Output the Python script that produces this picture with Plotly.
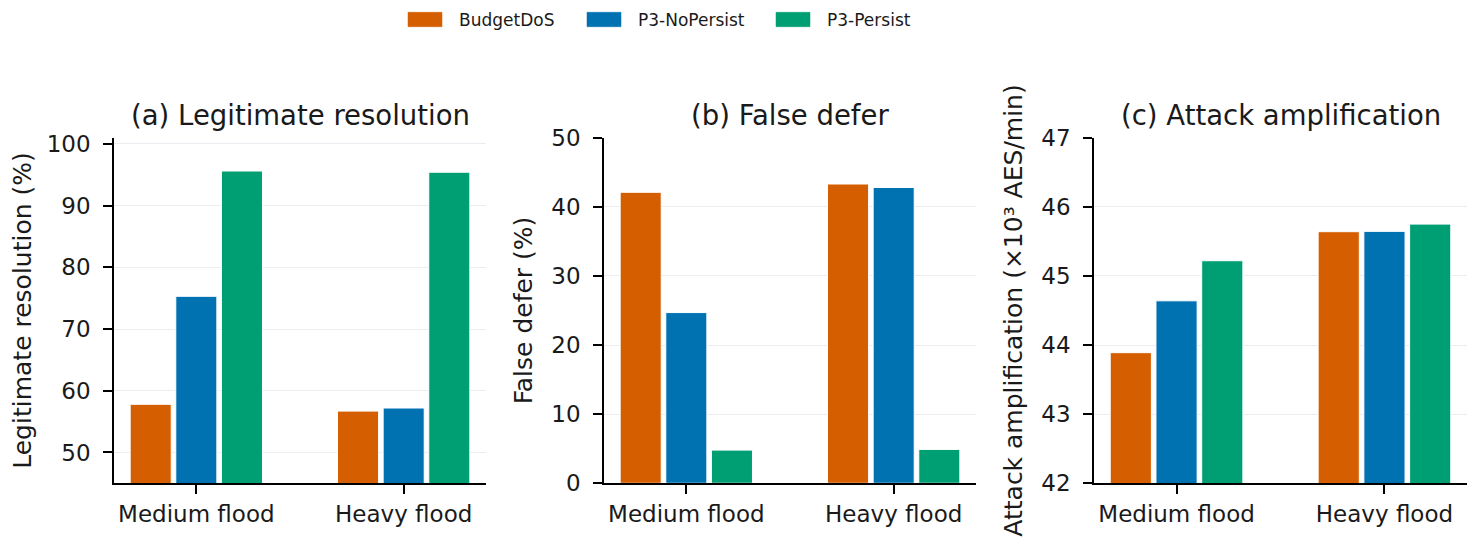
import plotly.graph_objects as go
from plotly.subplots import make_subplots

# data
categories = ['Medium flood', 'Heavy flood']
series_names = ['BudgetDoS', 'P3-NoPersist', 'P3-Persist']
series_colors = ['#D55E00', '#0072B2', '#009E73']

legit_resolution = {
    'BudgetDoS': [57.8, 56.7],
    'P3-NoPersist': [75.3, 57.2],
    'P3-Persist': [95.6, 95.4],
}
false_defer = {
    'BudgetDoS': [42.1, 43.3],
    'P3-NoPersist': [24.7, 42.8],
    'P3-Persist': [4.8, 4.9],
}
attack_amp = {
    'BudgetDoS': [43.89, 45.64],
    'P3-NoPersist': [44.64, 45.645],
    'P3-Persist': [45.22, 45.75],
}

panel_titles = ['(a) Legitimate resolution', '(b) False defer', '(c) Attack amplification']
y_titles = ['Legitimate resolution (%)', 'False defer (%)', 'Attack amplification (×10³ AES/min)']
y_ranges = [[45, 101], [0, 50], [42, 47]]
y_ticks = [[50, 60, 70, 80, 90, 100], [0, 10, 20, 30, 40, 50], [42, 43, 44, 45, 46, 47]]

W, H = 1476, 552
OFF = 8  # page body margin, the figure is drawn 8px in from the corner
font_family = 'DejaVu Sans'


def px_x(x):
    return (x - OFF) / W


def px_y(y):
    return 1 - (y - OFF) / H


fig = make_subplots(rows=1, cols=3)

panels = [legit_resolution, false_defer, attack_amp]
for col, panel in enumerate(panels, start=1):
    for name, color in zip(series_names, series_colors):
        fig.add_trace(
            go.Bar(
                x=categories,
                y=panel[name],
                name=name,
                marker=dict(color=color, line=dict(color='white', width=1)),
                showlegend=False,
            ),
            row=1, col=col
        )

# panel placement (pixels of the reference picture)
x_domains_px = [(114, 486), (604, 976), (1094, 1467)]
y_domain_px = (137.7, 483.3)
y_dom = [px_y(y_domain_px[1]), px_y(y_domain_px[0])]

for i in range(3):
    xd = [px_x(x_domains_px[i][0]), px_x(x_domains_px[i][1])]
    fig.update_xaxes(
        domain=xd,
        type='category',
        range=[-0.397, 1.397],
        automargin=False,
        showline=True, linecolor='black', linewidth=1.6,
        ticks='outside', ticklen=9, tickwidth=1.6, tickcolor='black',
        tickfont=dict(size=23, color='#1a1a1a', family=font_family),
        ticklabelstandoff=0,
        showgrid=False, zeroline=False,
        row=1, col=i + 1
    )
    fig.update_yaxes(
        domain=y_dom,
        range=y_ranges[i],
        tickvals=y_ticks[i],
        automargin=False,
        showline=True, linecolor='black', linewidth=1.6,
        ticks='outside', ticklen=9, tickwidth=1.6, tickcolor='black',
        tickfont=dict(size=23, color='#1a1a1a', family=font_family),
        ticklabelstandoff=8,
        showgrid=True, gridcolor='#ececf2', gridwidth=1,
        zeroline=False,
        title=dict(text=y_titles[i], standoff=12,
                   font=dict(size=25, color='#1a1a1a', family=font_family)),
        row=1, col=i + 1
    )
    # panel title
    fig.add_annotation(
        text=panel_titles[i],
        xref='paper', yref='paper',
        x=sum(xd) / 2, y=y_dom[1],
        xanchor='center', yanchor='bottom', yshift=5,
        showarrow=False,
        font=dict(size=27.5, color='#1a1a1a', family=font_family)
    )

# legend drawn at the top centre
legend_x_px = [408, 587, 776]
for name, color, lx in zip(series_names, series_colors, legend_x_px):
    fig.add_shape(
        type='rect', xref='paper', yref='paper',
        x0=px_x(lx), x1=px_x(lx + 34),
        y0=px_y(26.7), y1=px_y(12.3),
        fillcolor=color, line=dict(color=color, width=0.5)
    )
    fig.add_annotation(
        text=name, xref='paper', yref='paper',
        x=px_x(lx + 49), y=px_y(19.5),
        xanchor='left', yanchor='middle', showarrow=False,
        font=dict(size=17, color='#1a1a1a', family=font_family)
    )

fig.update_layout(
    width=W, height=H,
    margin=dict(l=0, r=0, t=0, b=0, autoexpand=False),
    paper_bgcolor='white', plot_bgcolor='white',
    barmode='group', bargap=0.34, bargroupgap=0.1,
    font=dict(family=font_family, color='#1a1a1a'),
)

fig.write_html('out.html')
